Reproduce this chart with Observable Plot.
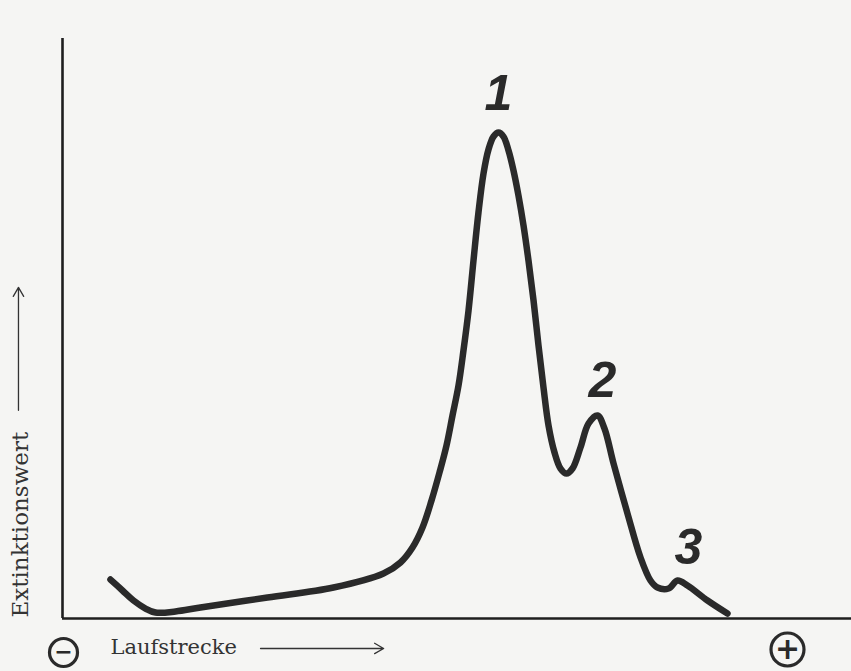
<!DOCTYPE html>
<html>
<head>
<meta charset="utf-8">
<script src="https://cdn.jsdelivr.net/npm/d3@7"></script>
<script src="https://cdn.jsdelivr.net/npm/@observablehq/plot@0.6"></script>
<style>
  html, body { margin: 0; padding: 0; background: #f5f5f3; }
  #chart { width: 851px; height: 671px; }
</style>
</head>
<body>
<div id="chart"></div>
<script>
// Laufstrecke (migration distance, 0–100) and Extinktionswert (absorbance, 0–100)
const laufstrecke = [6.08, 7.60, 9.00, 10.52, 11.79, 14.32, 17.49, 25.98, 34.35, 40.68, 42.84, 44.36, 45.63, 46.77, 47.78, 48.67, 49.43, 50.19, 50.82, 51.46, 52.09, 52.72, 53.36, 53.99, 54.63, 55.26, 55.89, 56.53, 57.16, 57.79, 58.43, 59.06, 59.70, 60.33, 60.96, 61.60, 62.36, 63.12, 63.88, 64.64, 65.65, 66.67, 67.81, 68.69, 69.84, 71.61, 73.26, 74.52, 75.41, 76.81, 77.95, 79.21, 81.75, 84.28];
const extinktion  = [6.72, 4.83, 3.10, 1.72, 1.03, 1.21, 1.90, 3.62, 5.34, 7.76, 9.66, 12.24, 15.69, 20.34, 25.17, 29.83, 35.00, 40.17, 46.21, 53.10, 61.72, 70.00, 76.72, 80.86, 83.10, 83.79, 83.10, 80.69, 77.24, 72.93, 67.76, 61.72, 54.83, 47.07, 39.83, 33.28, 28.62, 25.86, 25.00, 25.86, 29.48, 33.62, 35.00, 32.76, 26.72, 18.10, 10.52, 6.55, 5.34, 5.17, 6.55, 5.69, 3.10, 0.86];

// Peak labels
const peakLabels = ["1", "2", "3"];
const peakX = [55.26, 68.44, 79.34];
const peakY = [90.5, 40.9, 12.2];

// Axis annotation texts
const xLabel = "Laufstrecke";
const yLabel = "Extinktionswert";
const minusSign = "−";
const plusSign = "+";

// Axis direction arrows (in data units, outside the frame)
const arrowX1 = [25.1, -5.58];
const arrowY1 = [-5.17, 35.9];
const arrowX2 = [40.7, -5.58];
const arrowY2 = [-5.17, 57.1];

const curve = laufstrecke.map((x, i) => ({x, y: extinktion[i]}));
const peaks = peakLabels.map((label, i) => ({label, x: peakX[i], y: peakY[i]}));
const arrows = arrowX1.map((x1, i) => ({x1, y1: arrowY1[i], x2: arrowX2[i], y2: arrowY2[i]}));

const ink = "#2a2a2a";
const serif = "'DejaVu Serif', 'Liberation Serif', serif";

const chart = Plot.plot({
  width: 851,
  height: 671,
  marginLeft: 62,
  marginRight: 0,
  marginTop: 38,
  marginBottom: 53,
  x: {domain: [0, 100], axis: null},
  y: {domain: [0, 100], axis: null},
  style: {background: "#f5f5f3", overflow: "visible"},
  marks: [
    // axes
    Plot.ruleX([0], {y1: 0, y2: 100, stroke: "#1e1e1e", strokeWidth: 2.6}),
    Plot.ruleY([0], {x1: 0, x2: 100, stroke: "#1e1e1e", strokeWidth: 2.6}),
    // curve
    Plot.line(curve, {x: "x", y: "y", curve: "catmull-rom", stroke: ink, strokeWidth: 6.5, strokeLinecap: "round", strokeLinejoin: "round"}),
    // peak numbers
    Plot.text(peaks, {x: "x", y: "y", text: "label", fontSize: 50, fontWeight: "bold", fontStyle: "italic", fontFamily: "'Liberation Sans', sans-serif", fill: ink, lineAnchor: "middle"}),
    // arrows
    Plot.arrow(arrows, {x1: "x1", y1: "y1", x2: "x2", y2: "y2", stroke: "#333", strokeWidth: 1.3, headLength: 12, clip: false}),
    // axis labels
    Plot.text([xLabel], {frameAnchor: "bottom-left", text: d => d, textAnchor: "start", lineAnchor: "middle", dx: 48, dy: 29, fontSize: 21, fontFamily: serif, fill: "#333"}),
    Plot.text([yLabel], {frameAnchor: "bottom-left", text: d => d, textAnchor: "start", lineAnchor: "middle", rotate: -90, dx: -42, dy: -1, fontSize: 23, fontFamily: serif, fill: "#333"}),
    // pole symbols (cathode − / anode +)
    Plot.dot([minusSign], {frameAnchor: "bottom-left", dx: 1, dy: 34, r: 14, stroke: ink, strokeWidth: 3.2, fill: "none"}),
    Plot.text([minusSign], {frameAnchor: "bottom-left", text: d => d, textAnchor: "middle", lineAnchor: "middle", dx: 1, dy: 33, fontSize: 22, fontWeight: "bold", fontFamily: "'DejaVu Sans', sans-serif", fill: ink}),
    Plot.dot([plusSign], {frameAnchor: "bottom-right", dx: -64, dy: 31, r: 16.5, stroke: ink, strokeWidth: 3.2, fill: "none"}),
    Plot.text([plusSign], {frameAnchor: "bottom-right", text: d => d, textAnchor: "middle", lineAnchor: "middle", dx: -64, dy: 31, fontSize: 30, fontWeight: "bold", fontFamily: "'DejaVu Sans', sans-serif", fill: ink})
  ]
});
document.getElementById("chart").appendChild(chart);
</script>
</body>
</html>
